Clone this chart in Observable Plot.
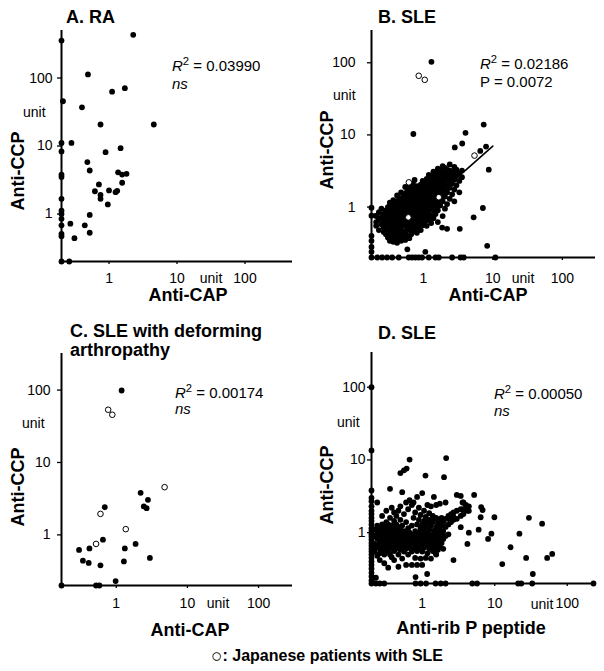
<!DOCTYPE html>
<html><head><meta charset="utf-8">
<script src="https://cdn.jsdelivr.net/npm/d3@7"></script>
<script src="https://cdn.jsdelivr.net/npm/@observablehq/plot@0.6"></script>
<style>
body{margin:0;background:#fff;}
#root{position:relative;width:604px;height:671px;font-family:"Liberation Sans",Arial,sans-serif;color:#000;overflow:hidden;}
.p{position:absolute;}
.t{position:absolute;white-space:nowrap;line-height:1;transform:translateY(-50%);}
.b{font-weight:bold;font-size:18px;}
.ann{font-size:15px;}
.u{font-size:14px;}
.cx{transform:translate(-50%,-50%);}
.rot{position:absolute;white-space:nowrap;line-height:1;font-weight:bold;font-size:18px;transform:translate(-50%,-50%) rotate(-90deg);}
sup{font-size:0.75em;vertical-align:0.5em;line-height:0;}
.circ{font-weight:normal;font-size:19px;vertical-align:-1px;}
</style></head><body><div id="root"></div>
<script>
// ---------- data ----------
const tickValues = [1, 10, 100];

// Panel A: RA (Anti-CAP vs Anti-CCP), filled
const aFilled = [[0.2,355],[2.27,432],[0.49,113],[1.71,71],[1.11,63],[0.21,45.5],[0.40,37],[0.75,20.7],[4.56,20.7],[0.2,11.1],[0.28,11.1],[0.2,8.3],[0.89,8.1],[1.48,9.3],[0.48,5.8],[0.52,4.36],[0.2,3.8],[0.2,3.5],[1.36,4.1],[1.56,3.8],[1.81,3.9],[0.71,2.72],[1.56,2.88],[0.62,2.16],[0.75,1.91],[0.75,1.67],[1.0,2.22],[1.25,2.09],[1.32,2.19],[0.96,1.38],[0.2,1.67],[0.2,1.12],[0.2,1.0],[0.52,0.97],[0.2,0.85],[0.27,0.72],[0.2,0.68],[0.44,0.68],[0.2,0.51],[0.2,0.47],[0.52,0.53],[0.31,0.44],[0.2,0.2],[0.26,0.2]];
const aOpen = [];

// Panel B: SLE (Anti-CAP vs Anti-CCP)
const bOutliers = [[1.31,103],[0.72,10.3],[7.4,13.9],[4.05,10.7],[3.63,7.6],[2.84,6.7],[8.0,6.9],[6.6,6.0],[8.75,3.3],[7.2,0.97],[5.3,0.72],[8.3,0.29],[3.35,0.5],[0.75,2.38],[2.2,0.5],[1.87,0.52],[1.07,0.24],[0.59,0.26]];
const bBottomX = [0.18,0.218,0.256,0.302,0.357,0.444,0.618,0.69,0.77,0.86,0.96,1.2,1.5,1.67,2.6,3.43,3.82,10.9];
const bLeftY = [0.98,0.76,0.40,0.34,0.28,0.24];
const bCloud = [
 [0.21,[0.62,0.75,0.55]],[0.23,[0.68,0.48,0.85]],[0.25,[0.58,0.72,0.95]],[0.27,[0.52,0.66,0.8,0.45]],
 [0.29,[0.6,0.75,0.9,0.42,0.5]],[0.31,[0.38,0.55,0.68,0.82,1.0]],[0.33,[0.34,0.46,0.6,0.74,0.92,1.15]],
 [0.35,[0.36,0.42,0.52,0.64,0.78,0.88,1.05]],[0.37,[0.33,0.4,0.48,0.58,0.7,0.84,1.0,1.25]],
 [0.39,[0.35,0.44,0.54,0.62,0.76,0.95,1.1]],[0.42,[0.32,0.38,0.46,0.56,0.66,0.8,0.9,1.02,1.2,1.45]],
 [0.45,[0.36,0.42,0.5,0.6,0.72,0.85,0.98,1.15,1.3]],[0.48,[0.34,0.4,0.52,0.64,0.76,0.9,1.05,1.25,1.6]],
 [0.51,[0.38,0.46,0.58,0.7,0.82,0.95,1.12,1.4]],[0.55,[0.35,0.44,0.55,0.66,0.78,0.92,1.08,1.3,1.55,1.9]],
 [0.59,[0.4,0.5,0.62,0.74,0.88,1.0,1.2,1.45,1.75]],[0.63,[0.37,0.48,0.58,0.7,0.84,0.98,1.15,1.35,1.65,2.0]],
 [0.67,[0.42,0.54,0.66,0.8,0.94,1.1,1.3,1.55,1.85]],[0.71,[0.46,0.6,0.72,0.86,1.02,1.2,1.42,1.7,2.1]],
 [0.76,[0.5,0.64,0.78,0.92,1.08,1.28,1.5,1.8]],[0.81,[0.44,0.56,0.7,0.85,1.0,1.16,1.38,1.62,1.95]],
 [0.86,[0.52,0.66,0.8,0.95,1.12,1.3,1.55,1.85]],[0.92,[0.48,0.6,0.75,0.9,1.05,1.22,1.45,1.72,2.05]],
 [0.98,[0.56,0.7,0.85,1.0,1.18,1.38,1.62,1.95,2.3]],[1.05,[0.62,0.78,0.94,1.1,1.3,1.52,1.8,2.15]],
 [1.12,[0.55,0.72,0.88,1.05,1.25,1.48,1.75,2.05,2.45]],[1.2,[0.66,0.82,1.0,1.2,1.42,1.68,2.0,2.4,2.8]],
 [1.3,[0.6,0.76,0.95,1.15,1.36,1.6,1.9,2.25,2.7]],[1.4,[0.7,0.9,1.1,1.32,1.55,1.85,2.2,2.6,3.1]],
 [1.5,[0.8,1.0,1.25,1.5,1.78,2.1,2.5,3.0]],[1.62,[0.62,0.9,1.15,1.4,1.7,2.0,2.4,2.85,3.4]],
 [1.75,[1.05,1.3,1.6,1.9,2.25,2.7,3.2]],[1.9,[0.75,1.2,1.5,1.8,2.15,2.55,3.0,3.7]],
 [2.05,[0.95,1.4,1.7,2.05,2.45,2.9,3.5]],[2.2,[1.1,1.6,2.0,2.4,2.8,3.3]],
 [2.4,[1.3,1.85,2.3,2.75,3.2,3.9]],[2.6,[1.5,2.1,2.6,3.1]],[2.8,[1.2,1.75,2.4,3.0,3.6]],
 [3.0,[2.0,2.7,3.3]],[3.3,[1.6,2.3,2.9]],[3.6,[2.6,3.2]]
];
const bOpen = [[0.86,66],[1.05,58],[0.62,2.2],[5.45,5.17],[0.61,0.72],[1.67,1.37]];
const bFitX = [0.18,0.5,1,2,4,10];
const bFitY = [0.78,0.98,1.3,1.93,3.2,7.0];

// Panel C: SLE with deforming arthropathy
const cFilled = [[1.19,98.7],[2.2,3.81],[2.79,3.05],[2.44,2.47],[2.67,2.34],[0.69,2.41],[0.65,0.86],[0.30,0.62],[0.42,0.65],[1.32,0.65],[1.87,0.75],[0.34,0.44],[0.41,0.41],[0.60,0.38],[1.28,0.43],[2.97,0.48],[0.98,0.23],[0.17,0.2],[0.52,0.2],[0.58,0.2]];
const cOpen = [[0.77,53.5],[0.88,45.6],[4.78,4.56],[0.60,1.95],[1.36,1.2],[0.52,0.75]];

// Panel D: SLE (Anti-rib P peptide vs Anti-CCP)
const dOutliers = [[0.2,100],[0.2,13.5],[0.67,10.1],[2.14,10.6],[0.50,6.6],[0.56,7.2],[0.61,7.6],[1.11,6.1],[2.0,5.8],[0.36,4.0],[0.53,3.6],[1.0,3.5],[1.45,3.1],[3.0,3.3],[3.4,3.2],[5.2,3.3],[6.5,2.25],[6.8,2.05],[4.0,2.4],[4.4,2.3],[4.2,2.0],[3.6,2.6],[6.4,1.63],[9.9,1.63],[29.6,1.6],[45,1.33],[9.0,0.97],[8.1,0.82],[21.9,0.97],[16.5,0.63],[27.1,0.45],[52.8,0.45],[62,0.51],[12.7,0.37],[33.5,0.27],[4.2,0.70],[6.0,1.1],[3.4,1.19],[2.7,0.42],[1.53,0.52],[0.81,0.245],[1.17,0.27],[0.21,0.24],[0.23,0.24]];
const dBottomX = [0.2,0.23,0.26,0.3,0.81,0.95,1.13,1.53,1.8,2.1,4.9,5.7,21,23.2,32.9,230];
const dLeftY = [3.8,3.0,2.7,2.3,2.0,1.8,1.6,1.45,1.3,1.15,1.05,0.95,0.88,0.8,0.72,0.66,0.6,0.55,0.5,0.45,0.4,0.36,0.32,0.28,0.25,0.22];
const dCloud = [
 [0.22,[0.55,0.62,0.7,0.9,1.1]],[0.24,[0.48,0.66,0.82,1.0,1.25,2.6]],[0.26,[0.42,0.52,0.6,0.74,0.92,1.15]],
 [0.28,[0.56,0.68,0.8,0.95,1.05,1.3,1.7]],[0.30,[0.38,0.5,0.62,0.72,0.86,1.0,1.2]],
 [0.32,[0.58,0.66,0.78,0.9,1.08,1.4,2.0]],[0.34,[0.33,0.55,0.7,0.82,0.96,1.12,1.3]],
 [0.36,[0.5,0.62,0.74,0.88,1.02,1.18,1.6]],[0.38,[0.46,0.6,0.68,0.8,0.92,1.06,1.25,2.2]],
 [0.41,[0.42,0.56,0.64,0.76,0.88,1.0,1.15,1.45,1.9]],[0.44,[0.6,0.7,0.82,0.94,1.08,1.3,1.7]],
 [0.47,[0.34,0.5,0.62,0.74,0.86,0.98,1.2,2.0]],[0.50,[0.58,0.68,0.8,0.92,1.1,1.5,2.3]],
 [0.53,[0.44,0.62,0.72,0.86,1.0,1.25]],[0.56,[0.55,0.66,0.78,0.9,1.05,1.8]],
 [0.60,[0.36,0.6,0.72,0.84,0.96,1.4,2.6]],[0.64,[0.5,0.66,0.76,0.9,1.15,2.1]],
 [0.67,[0.62,0.7,0.82,1.0,2.8]],[0.72,[0.36,0.55,0.72,0.85,1.25,2.4]],[0.76,[0.6,0.78,0.94,1.6,2.6]],
 [0.80,[0.45,0.66,0.82,1.05,1.9]],[0.85,[0.36,0.56,0.72,0.9,1.3,3.1]],[0.90,[0.62,0.78,1.0,1.5,2.2]],
 [0.95,[0.44,0.68,0.86,1.15,1.75]],[1.0,[0.36,0.55,0.75,0.95,1.3]],[1.06,[0.62,0.82,1.05,1.45,2.0]],
 [1.12,[0.45,0.68,0.9,1.2,1.65]],[1.18,[0.52,0.74,0.98,1.35,2.4]],[1.25,[0.6,0.8,1.1,1.5,1.85]],
 [1.32,[0.44,0.66,0.88,1.25,2.3]],[1.4,[0.56,0.72,0.96,1.4,1.7]],[1.48,[0.62,0.8,1.08,1.55]],
 [1.56,[0.5,0.68,0.9,1.2,1.6,2.4]],[1.65,[0.58,0.76,1.0,1.35]],[1.75,[0.64,0.85,1.1,1.5,2.5]],
 [1.85,[0.72,0.95,1.25,1.6]],[1.95,[0.6,0.82,1.05,1.4]],[2.1,[0.9,1.2,1.55,2.6]],
 [2.3,[0.95,1.3,1.55,1.7]],[2.5,[1.4,1.6,1.8]],[2.7,[1.5,1.65,1.9]],[3.0,[1.55,2.0]],
 [3.4,[1.7,2.1]],[3.7,[1.8,2.1,2.6]],[4.4,[1.0,2.0]]
];

// ---------- build ----------
const expand = cols => cols.flatMap(([x, ys]) => ys.map(y => [x, y]));

const panels = [
  {left:0, top:0, width:300, height:310, m:[30,8,49,61], xd:[0.2,500], yd:[0.2,500], xPad:9, yPad:5,
   filled:aFilled, open:aOpen},
  {left:300, top:0, width:304, height:310, m:[30,9,53,71], xd:[0.18,300], yd:[0.2,280], xPad:13, yPad:12,
   filled:[...bOutliers, ...bBottomX.map(x=>[x,0.2]), ...bLeftY.map(y=>[0.18,y]), ...expand(bCloud)],
   open:bOpen, fit:bFitX.map((x,i)=>[x,bFitY[i]])},
  {left:0, top:310, width:300, height:330, m:[43,8,55,61], xd:[0.17,300], yd:[0.2,320], xPad:10, yPad:7,
   filled:cFilled, open:cOpen},
  {left:300, top:310, width:304, height:330, m:[42,11,57,71], xd:[0.2,230], yd:[0.2,300], xPad:12, yPad:2,
   filled:[...dOutliers, ...dBottomX.map(x=>[x,0.2]), ...dLeftY.map(y=>[0.2,y]), ...expand(dCloud)],
   open:[]}
];

const root = document.getElementById("root");
for (const p of panels) {
  const marks = [
    Plot.ruleX([p.xd[0]], {stroke:"#000", strokeWidth:2}),
    Plot.ruleY([p.yd[0]], {stroke:"#000", strokeWidth:2}),
    Plot.axisX({ticks:tickValues, tickFormat:d=>String(d), tickSize:3, tickPadding:p.xPad, label:null, fontSize:14, strokeWidth:1.3}),
    Plot.axisY({ticks:tickValues, tickFormat:d=>String(d), tickSize:4, tickPadding:p.yPad, label:null, fontSize:14, strokeWidth:1.3})
  ];
  if (p.fit) marks.push(Plot.line(p.fit, {x:d=>d[0], y:d=>d[1], stroke:"#000", strokeWidth:1.6}));
  marks.push(Plot.dot(p.filled, {x:d=>d[0], y:d=>d[1], r:2.9, fill:"#000", stroke:"none"}));
  if (p.open.length) marks.push(Plot.dot(p.open, {x:d=>d[0], y:d=>d[1], r:2.8, fill:"#fff", stroke:"#000", strokeWidth:1}));
  const svg = Plot.plot({
    width:p.width, height:p.height,
    marginTop:p.m[0], marginRight:p.m[1], marginBottom:p.m[2], marginLeft:p.m[3],
    x:{type:"log", domain:p.xd},
    y:{type:"log", domain:p.yd},
    style:{fontFamily:'"Liberation Sans", Arial, sans-serif', fontSize:"14px", color:"#000", background:"transparent", overflow:"visible"},
    marks
  });
  svg.classList.add("p");
  svg.style.left = p.left + "px";
  svg.style.top = p.top + "px";
  root.appendChild(svg);
}

// ---------- text ----------
const texts = [
  // A
  ["t b", 66, 17, "A. RA"],
  ["t ann", 172, 65, "<i>R</i><sup>2</sup> = 0.03990"],
  ["t ann", 172, 83, "<i>ns</i>"],
  ["t u", 23, 112, "unit"],
  ["rot", 18, 171, "Anti-CCP"],
  ["t b cx", 188, 295, "Anti-CAP"],
  ["t u cx", 211, 278, "unit"],
  // B
  ["t b", 378, 17, "B. SLE"],
  ["t ann", 480, 63, "<i>R</i><sup>2</sup> = 0.02186"],
  ["t ann", 480, 81, "P = 0.0072"],
  ["t u", 333, 95, "unit"],
  ["rot", 327, 150, "Anti-CCP"],
  ["t b cx", 488, 295, "Anti-CAP"],
  ["t u cx", 523, 278, "unit"],
  // C
  ["t b", 70, 331, "C. SLE with deforming"],
  ["t b", 70, 350, "arthropathy"],
  ["t ann", 175, 392, "<i>R</i><sup>2</sup> = 0.00174"],
  ["t ann", 175, 408, "<i>ns</i>"],
  ["t u", 22, 423, "unit"],
  ["rot", 18, 487, "Anti-CCP"],
  ["t b cx", 190, 630, "Anti-CAP"],
  ["t u cx", 218, 603, "unit"],
  // D
  ["t b", 378, 333, "D. SLE"],
  ["t ann", 494, 393, "<i>R</i><sup>2</sup> = 0.00050"],
  ["t ann", 494, 410, "<i>ns</i>"],
  ["t u", 337, 422, "unit"],
  ["rot", 327, 485, "Anti-CCP"],
  ["t b cx", 471, 628, "Anti-rib P peptide"],
  ["t u cx", 542, 604, "unit"],
  // caption
  ["t cx cap", 327, 655, "<span class=\"circ\">○</span>: Japanese patients with SLE"]
];
for (const [cls, x, y, html] of texts) {
  const el = document.createElement("div");
  el.className = cls;
  el.style.left = x + "px";
  el.style.top = y + "px";
  if (cls.includes("cap")) { el.style.fontWeight = "bold"; el.style.fontSize = "16px"; }
  el.innerHTML = html;
  root.appendChild(el);
}
</script>
</body></html>
